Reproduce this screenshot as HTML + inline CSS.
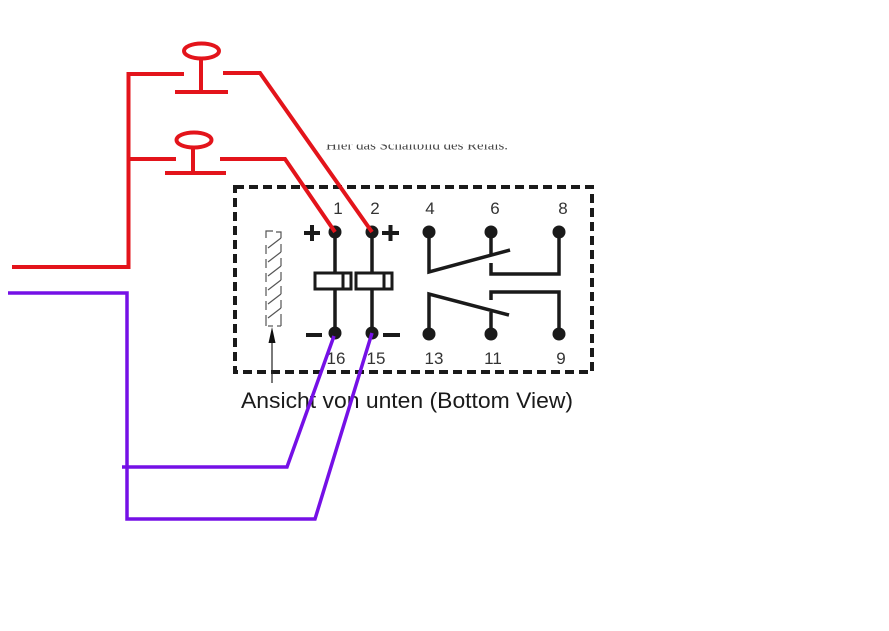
<!DOCTYPE html>
<html>
<head>
<meta charset="utf-8">
<style>
html,body{margin:0;padding:0;background:#fff;}
body{width:889px;height:631px;overflow:hidden;}
svg{display:block;}
</style>
</head>
<body>
<svg width="889" height="631" viewBox="0 0 889 631" xmlns="http://www.w3.org/2000/svg">
<rect width="889" height="631" fill="#fff"/>
<defs>
<clipPath id="clipTxt"><rect x="300" y="144.5" width="260" height="20"/></clipPath>
</defs>
<!-- clipped header text -->
<text x="326" y="149.5" font-family="Liberation Serif, serif" font-size="13" fill="#444" textLength="182" lengthAdjust="spacingAndGlyphs" clip-path="url(#clipTxt)">Hier das Schaltbild des Relais.</text>

<!-- dashed box -->
<rect x="235" y="187" width="357" height="185" fill="none" stroke="#1a1a1a" stroke-width="4" stroke-dasharray="9 5"/>

<!-- coil hatch symbol -->
<g stroke="#555" stroke-width="1.2" fill="none">
  <polyline points="273,231 266,231 266,238"/>
  <polyline points="276,232 281,232 281,238"/>
  <line x1="266" y1="245" x2="266" y2="254"/>
  <line x1="266" y1="259" x2="266" y2="268"/>
  <line x1="266" y1="273" x2="266" y2="282"/>
  <line x1="266" y1="287" x2="266" y2="296"/>
  <line x1="266" y1="301" x2="266" y2="310"/>
  <line x1="266" y1="315" x2="266" y2="326"/>
  <line x1="281" y1="244" x2="281" y2="252"/>
  <line x1="281" y1="258" x2="281" y2="266"/>
  <line x1="281" y1="272" x2="281" y2="280"/>
  <line x1="281" y1="286" x2="281" y2="294"/>
  <line x1="281" y1="300" x2="281" y2="308"/>
  <line x1="281" y1="314" x2="281" y2="326"/>
  <line x1="268" y1="248" x2="281" y2="238"/>
  <line x1="268" y1="262" x2="281" y2="252"/>
  <line x1="268" y1="276" x2="281" y2="266"/>
  <line x1="268" y1="290" x2="281" y2="280"/>
  <line x1="268" y1="304" x2="281" y2="294"/>
  <line x1="268" y1="318" x2="281" y2="308"/>
  <polyline points="268,326 273,326"/>
  <polyline points="277,326 281,326"/>
</g>
<!-- arrow -->
<line x1="272" y1="341" x2="272" y2="383" stroke="#222" stroke-width="1.2"/>
<polygon points="272,327 268.5,343 275.5,343" fill="#111"/>

<!-- coil stems -->
<g stroke="#1a1a1a" stroke-width="3.5" fill="none">
  <line x1="335" y1="232" x2="335" y2="333"/>
  <line x1="372" y1="232" x2="372" y2="333"/>
</g>
<!-- coil boxes -->
<g stroke="#1a1a1a" stroke-width="3" fill="#fff">
  <rect x="315" y="273" width="36" height="16"/>
  <rect x="356" y="273" width="36" height="16"/>
</g>
<g stroke="#1a1a1a" stroke-width="3">
  <line x1="343" y1="273" x2="343" y2="289"/>
  <line x1="384" y1="273" x2="384" y2="289"/>
</g>
<!-- plus / minus -->
<g stroke="#1a1a1a" stroke-width="4">
  <line x1="304" y1="233" x2="320" y2="233"/>
  <line x1="312" y1="225" x2="312" y2="241"/>
  <line x1="382" y1="233" x2="399" y2="233"/>
  <line x1="390.5" y1="225" x2="390.5" y2="241"/>
  <line x1="306" y1="335" x2="322" y2="335"/>
  <line x1="383" y1="335" x2="400" y2="335"/>
</g>

<!-- contacts -->
<g stroke="#1a1a1a" stroke-width="3.5" fill="none" stroke-linejoin="miter">
  <polyline points="429,232 429,272 510,250"/>
  <line x1="491" y1="232" x2="491" y2="255"/>
  <polyline points="491,263 491,274 559,274 559,232"/>
  <polyline points="429,334 429,294 509,315"/>
  <line x1="491" y1="334" x2="491" y2="312"/>
  <polyline points="491,300 491,292 559,292 559,334"/>
</g>

<!-- pin dots -->
<g fill="#1a1a1a">
  <circle cx="335" cy="232" r="6.5"/>
  <circle cx="372" cy="232" r="6.5"/>
  <circle cx="335" cy="333" r="6.5"/>
  <circle cx="372" cy="333" r="6.5"/>
  <circle cx="429" cy="232" r="6.5"/>
  <circle cx="491" cy="232" r="6.5"/>
  <circle cx="559" cy="232" r="6.5"/>
  <circle cx="429" cy="334" r="6.5"/>
  <circle cx="491" cy="334" r="6.5"/>
  <circle cx="559" cy="334" r="6.5"/>
</g>

<!-- pin labels -->
<g font-family="Liberation Sans, Arial, sans-serif" font-size="17" fill="#333" text-anchor="middle">
  <text x="338" y="214">1</text>
  <text x="375" y="214">2</text>
  <text x="430" y="214">4</text>
  <text x="495" y="214">6</text>
  <text x="563" y="214">8</text>
  <text x="336" y="364">16</text>
  <text x="376" y="364">15</text>
  <text x="434" y="364">13</text>
  <text x="493" y="364">11</text>
  <text x="561" y="364">9</text>
</g>

<!-- caption -->
<text x="241" y="408" font-family="Liberation Sans, Arial, sans-serif" font-size="22.5" fill="#1a1a1a" textLength="332" lengthAdjust="spacingAndGlyphs">Ansicht von unten (Bottom View)</text>

<!-- red wiring -->
<g stroke="#e3141b" stroke-width="4" fill="none" stroke-linejoin="miter" stroke-linecap="butt">
  <ellipse cx="201.5" cy="51" rx="17.5" ry="7.5"/>
  <line x1="201" y1="58" x2="201" y2="92"/>
  <line x1="175" y1="92" x2="228" y2="92"/>
  <ellipse cx="194" cy="140" rx="17.5" ry="7.5"/>
  <line x1="193" y1="147" x2="193" y2="173"/>
  <line x1="165" y1="173" x2="226" y2="173"/>
  <polyline points="184,74 128.5,74 128.5,267 12,267"/>
  <polyline points="176,159 129,159"/>
  <polyline points="223,73 260,73 372,232"/>
  <polyline points="220,159 285,159 335,232"/>
</g>

<!-- purple wiring -->
<g stroke="#7510e6" stroke-width="3.5" fill="none" stroke-linejoin="miter">
  <polyline points="8,293 127,293 127,519 315,519 372,333"/>
  <polyline points="122,467 287,467 334,336"/>
</g>
</svg>
</body>
</html>
